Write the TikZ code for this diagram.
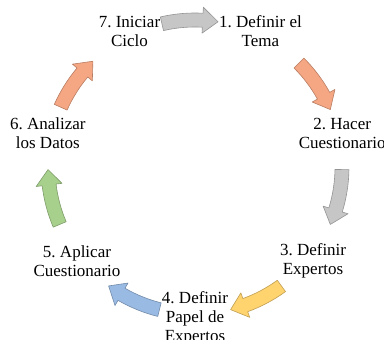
\documentclass[tikz,border=0pt]{standalone}
\usepackage{fontspec}
\setmainfont{Liberation Serif}
\usetikzlibrary{calc}
\definecolor{gris}{HTML}{C6C6C6}
\definecolor{saumon}{HTML}{F5A683}
\definecolor{jaune}{HTML}{FFD36E}
\definecolor{bleu}{HTML}{99BAE3}
\definecolor{vert}{HTML}{A8D08D}
\frenchspacing
\begin{document}
\begin{tikzpicture}[x=1pt,y=1pt,
    etape/.style={align=center,inner sep=0pt,font=\fontsize{17}{19}\selectfont},
    fleche/.style={fill=#1,draw=#1!75!black,line width=0.6pt,line join=round}]
    \useasboundingbox (0,0) rectangle (384,340);
    \coordinate (C) at (195,173);

    % etapes du cycle
    \foreach \i/\txt in {1/{1. Definir el\\Tema},2/{2. Hacer\\Cuestionario},
        3/{3. Definir\\Expertos},4/{4. Definir\\Papel de\\Expertos},
        5/{5. Aplicar\\Cuestionario},6/{6. Analizar\\los Datos},7/{7. Iniciar\\Ciclo}}{
      \node[etape] (n\i) at ($(C)+({64.3-(\i-1)*51.43}:151)$) {\txt};
    }

    % fleches courbes (sens horaire)
    \begin{scope}[shift={(C)}]
      \foreach \a/\c in {92/gris,34/saumon,-12/gris,-65/jaune,-115/bleu,192/vert,145/saumon}{
        \draw[fleche=\c] (\a+11:154) arc[start angle=\a+11,end angle=\a-5,radius=154]
          -- (\a-5:160) -- (\a-11:147) -- (\a-5:134) -- (\a-5:140)
          arc[start angle=\a-5,end angle=\a+11,radius=140] -- cycle;
      }
    \end{scope}
  \end{tikzpicture}
\end{document}
